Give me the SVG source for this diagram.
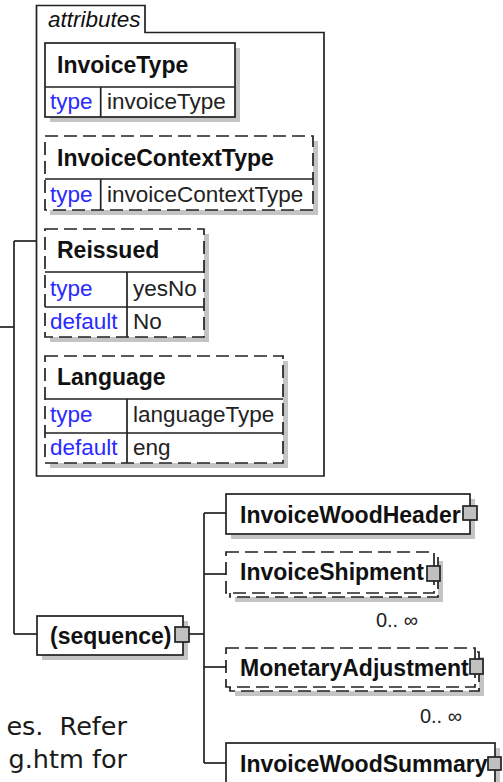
<svg xmlns="http://www.w3.org/2000/svg" width="503" height="782" viewBox="0 0 503 782">
<style>
.box{fill:#fff;stroke:#222;stroke-width:1.7}
.dash{stroke-dasharray:13 6}
.sh{fill:#c4c4c4}
.in{stroke:#222;stroke-width:1.7;fill:none}
.ln{stroke:#222;stroke-width:1.7;fill:none}
.sq{fill:#c0c0c0;stroke:#222;stroke-width:1.7}
.hd{font-family:"Liberation Sans",Arial,sans-serif;font-size:23px;font-weight:bold;fill:#111}
.k{font-family:"Liberation Sans",Arial,sans-serif;font-size:22.5px;fill:#2a2aff}
.v{font-family:"Liberation Sans",Arial,sans-serif;font-size:22.5px;fill:#222}
.occ{font-family:"Liberation Sans",Arial,sans-serif;font-size:20px;fill:#222}
.note{font-family:"DejaVu Sans",Verdana,sans-serif;font-size:25.5px;fill:#1a1a1a}
</style>

<g id="connectors">
  <path class="ln" d="M0 327 H14"/>
  <path class="ln" d="M14 241 V634"/>
  <path class="ln" d="M14 241 H36.5"/>
  <path class="ln" d="M14 634 H37"/>
  <path class="ln" d="M189 634 H204"/>
  <path class="ln" d="M204 513 V763"/>
  <path class="ln" d="M204 513 H226"/>
  <path class="ln" d="M204 574 H226"/>
  <path class="ln" d="M204 667 H226"/>
  <path class="ln" d="M204 763 H226"/>
</g>

<g id="attributes">
  <path class="box" d="M36.5 5.5 H145 V32.5 H324 V476 H36.5 Z"/>
  <text x="48" y="27" font-family="Liberation Sans, Arial, sans-serif" font-size="22.5" font-style="italic" fill="#111">attributes</text>
</g>

<g id="InvoiceType">
  <rect class="sh" x="50" y="48" width="190" height="74"/>
  <rect class="box" x="45" y="43" width="190" height="74"/>
  <path class="in" d="M45 87 H235 M100.7 87 V117"/>
  <text class="hd" x="57" y="73">InvoiceType</text>
  <text class="k" x="50" y="109">type</text>
  <text class="v" x="107" y="109">invoiceType</text>
</g>

<g id="InvoiceContextType">
  <rect class="sh" x="50" y="141" width="268" height="74"/>
  <rect class="box dash" x="45" y="136" width="268" height="74"/>
  <path class="in" d="M45 179 H313 M100.7 179 V210"/>
  <text class="hd" x="57" y="166">InvoiceContextType</text>
  <text class="k" x="50" y="202">type</text>
  <text class="v" x="107" y="202">invoiceContextType</text>
</g>

<g id="Reissued">
  <rect class="sh" x="50" y="234" width="159" height="108"/>
  <rect class="box dash" x="45" y="229" width="159" height="108"/>
  <path class="in" d="M45 272 H204 M45 307 H204 M127 272 V337"/>
  <text class="hd" x="57" y="258">Reissued</text>
  <text class="k" x="50" y="296">type</text>
  <text class="v" x="133" y="296">yesNo</text>
  <text class="k" x="50" y="329">default</text>
  <text class="v" x="133" y="329">No</text>
</g>

<g id="Language">
  <rect class="sh" x="50" y="361" width="238" height="107"/>
  <rect class="box dash" x="45" y="356" width="238" height="107"/>
  <path class="in" d="M45 399 H283 M45 433 H283 M127 399 V463"/>
  <text class="hd" x="57" y="385">Language</text>
  <text class="k" x="50" y="422">type</text>
  <text class="v" x="133" y="422">languageType</text>
  <text class="k" x="50" y="455">default</text>
  <text class="v" x="133" y="455">eng</text>
</g>

<g id="sequence">
  <rect class="sh" x="42" y="621" width="146" height="39"/>
  <rect class="box" x="37" y="616" width="146" height="39"/>
  <text class="hd" x="50" y="644">(sequence)</text>
  <rect class="sq" x="175" y="627" width="14" height="15"/>
</g>

<g id="InvoiceWoodHeader">
  <rect class="sh" x="231" y="499" width="244" height="40"/>
  <rect class="box" x="226" y="494" width="244" height="40"/>
  <text class="hd" x="240" y="523">InvoiceWoodHeader</text>
  <rect class="sq" x="463" y="506" width="14" height="14"/>
</g>

<g id="InvoiceShipment">
  <rect class="sh" x="235" y="561" width="208" height="41"/>
  <rect class="box dash" x="230" y="556" width="208" height="41"/>
  <rect class="box dash" x="226" y="552" width="208" height="41"/>
  <text class="hd" x="240" y="580">InvoiceShipment</text>
  <rect class="sq" x="427" y="566" width="13" height="15"/>
  <text class="occ" x="418" y="627" text-anchor="end">0.. ∞</text>
</g>

<g id="MonetaryAdjustment">
  <rect class="sh" x="235" y="657" width="249" height="39"/>
  <rect class="box dash" x="230" y="652" width="249" height="39"/>
  <rect class="box dash" x="226" y="648" width="249" height="39"/>
  <text class="hd" x="240" y="676">MonetaryAdjustment</text>
  <rect class="sq" x="470" y="659" width="13" height="15"/>
  <text class="occ" x="462" y="723" text-anchor="end">0.. ∞</text>
</g>

<g id="InvoiceWoodSummary">
  <rect class="sh" x="231" y="748" width="269" height="40"/>
  <rect class="box" x="226" y="743" width="269" height="45"/>
  <text class="hd" x="240" y="772">InvoiceWoodSummary</text>
  <rect class="sq" x="488" y="757" width="13" height="13"/>
</g>

<g id="note">
  <text class="note" x="127" y="735" text-anchor="end" word-spacing="8">es. Refer</text>
  <text class="note" x="127" y="768" text-anchor="end">g.htm for</text>
</g>
</svg>
